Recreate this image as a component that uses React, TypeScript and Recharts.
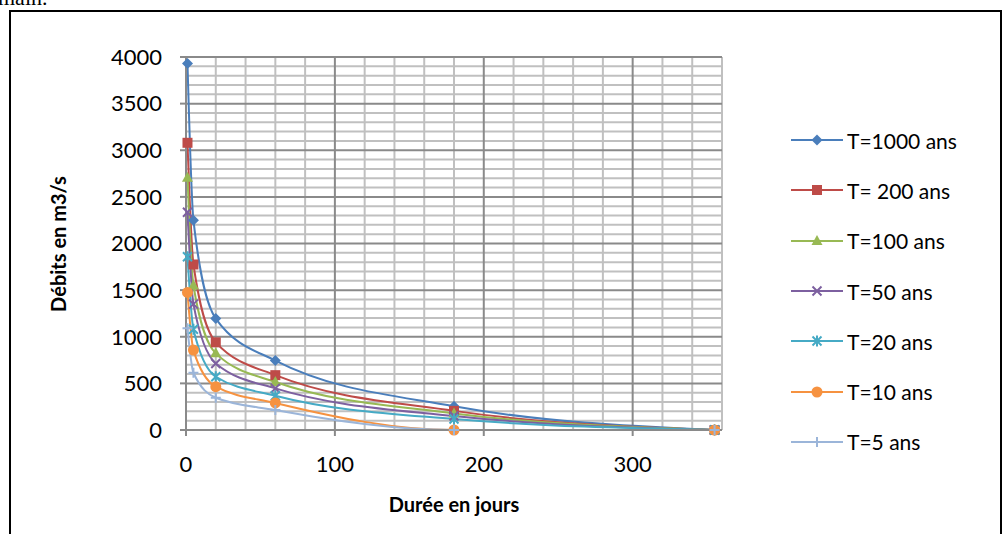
import React from "react";
import { LineChart, Line, XAxis, YAxis, ReferenceLine } from "recharts";

// durée (jours) et débits (m3/s) par période de retour
const days = [1, 5, 20, 60, 180, 355];
const t1000 = [3930, 2250, 1195, 745, 255, 0];
const t200 = [3080, 1775, 940, 588, 205, 0];
const t100 = [2705, 1550, 822, 515, 178, 0];
const t50 = [2335, 1350, 714, 446, 150, 0];
const t20 = [1858, 1080, 571, 368, 118, 0];
const t10 = [1475, 857, 464, 290, 0, 0];
const t5 = [1090, 614, 346, 214, 0, 0];

const xTicks = [0, 100, 200, 300];
const yTicks = [0, 500, 1000, 1500, 2000, 2500, 3000, 3500, 4000];

const FONT = "Lato, 'Open Sans', sans-serif";

const series = [
  { key: "t1000", name: "T=1000 ans", values: t1000, color: "#4A7EBB", shape: "diamond" },
  { key: "t200", name: "T= 200 ans", values: t200, color: "#BE4B48", shape: "square" },
  { key: "t100", name: "T=100 ans", values: t100, color: "#98B954", shape: "triangle" },
  { key: "t50", name: "T=50 ans", values: t50, color: "#7D60A0", shape: "x" },
  { key: "t20", name: "T=20 ans", values: t20, color: "#46AAC5", shape: "star" },
  { key: "t10", name: "T=10 ans", values: t10, color: "#F69240", shape: "circle" },
  { key: "t5", name: "T=5 ans", values: t5, color: "#9BB5D9", shape: "plus" },
];

const data = days.map((d, i) => {
  const row: Record<string, number> = { d };
  series.forEach((s) => (row[s.key] = s.values[i]));
  return row;
});

// minor grid every 20 days / 100 m3/s
const xMinor: number[] = [];
for (let v = 20; v <= 360; v += 20) if (v % 100 !== 0) xMinor.push(v);
const yMinor: number[] = [];
for (let v = 100; v < 4000; v += 100) if (v % 500 !== 0) yMinor.push(v);

function MarkerShape({ shape, cx, cy, color }: { shape: string; cx: number; cy: number; color: string }) {
  if (cx == null || cy == null) return null;
  switch (shape) {
    case "diamond":
      return <polygon points={`${cx},${cy - 5.5} ${cx + 5.5},${cy} ${cx},${cy + 5.5} ${cx - 5.5},${cy}`} fill={color} />;
    case "square":
      return <rect x={cx - 5} y={cy - 5} width={10} height={10} fill={color} />;
    case "triangle":
      return <polygon points={`${cx},${cy - 6} ${cx + 5.5},${cy + 4} ${cx - 5.5},${cy + 4}`} fill={color} />;
    case "x":
      return (
        <path d={`M${cx - 4.5},${cy - 4.5}L${cx + 4.5},${cy + 4.5}M${cx - 4.5},${cy + 4.5}L${cx + 4.5},${cy - 4.5}`}
          stroke={color} strokeWidth={2} />
      );
    case "star":
      return (
        <path d={`M${cx - 4.5},${cy - 4.5}L${cx + 4.5},${cy + 4.5}M${cx - 4.5},${cy + 4.5}L${cx + 4.5},${cy - 4.5}M${cx},${cy - 5.5}L${cx},${cy + 5.5}`}
          stroke={color} strokeWidth={2} />
      );
    case "circle":
      return <circle cx={cx} cy={cy} r={5.5} fill={color} />;
    default:
      return <path d={`M${cx - 5},${cy}L${cx + 5},${cy}M${cx},${cy - 5}L${cx},${cy + 5}`} stroke={color} strokeWidth={2} />;
  }
}

function LegendBox() {
  return (
    <div style={{ position: "absolute", left: 791, top: 115, fontFamily: FONT, fontSize: 21 }}>
      {series.map((s) => (
        <div key={s.key} style={{ height: 50.3, display: "flex", alignItems: "center" }}>
          <svg width={54} height={20} style={{ marginRight: 2 }}>
            <line x1={0} y1={10} x2={52} y2={10} stroke={s.color} strokeWidth={2} />
            <MarkerShape shape={s.shape} cx={26} cy={10} color={s.color} />
          </svg>
          <span>{s.name}</span>
        </div>
      ))}
    </div>
  );
}

export default function App() {
  return (
    <div style={{ position: "fixed", left: 0, top: 0, width: 1002, height: 534, overflow: "hidden", background: "#fff" }}>
      <div style={{ position: "absolute", left: -2, top: -15, fontFamily: "'Liberation Serif', serif", fontSize: 22 }}>main.</div>
      <div style={{ position: "absolute", left: 9, top: 10, width: 989, height: 560, border: "2px solid #000" }} />
      <div style={{ position: "absolute", left: 0, top: 0 }}>
        <LineChart width={1002} height={534} data={data} margin={{ top: 57, right: 280, bottom: 64, left: 116 }}>
          {xMinor.map((v) => (
            <ReferenceLine key={`xm${v}`} x={v} stroke="#c0c0c0" strokeWidth={2} />
          ))}
          {yMinor.map((v) => (
            <ReferenceLine key={`ym${v}`} y={v} stroke="#c0c0c0" strokeWidth={2} />
          ))}
          {xTicks.slice(1).map((v) => (
            <ReferenceLine key={`xM${v}`} x={v} stroke="#8a8a8a" strokeWidth={2} />
          ))}
          {yTicks.slice(1).map((v) => (
            <ReferenceLine key={`yM${v}`} y={v} stroke="#8a8a8a" strokeWidth={2} />
          ))}
          <XAxis
            dataKey="d"
            type="number"
            domain={[0, 360]}
            ticks={xTicks}
            height={40}
            tickSize={6}
            tickMargin={20}
            axisLine={{ stroke: "#8a8a8a", strokeWidth: 2 }}
            tickLine={{ stroke: "#8a8a8a", strokeWidth: 2 }}
            tick={{ fill: "#000", fontSize: 22, fontFamily: FONT }}
          />
          <YAxis
            type="number"
            domain={[0, 4000]}
            ticks={yTicks}
            width={70}
            tickSize={6}
            tickMargin={18}
            axisLine={{ stroke: "#8a8a8a", strokeWidth: 2 }}
            tickLine={{ stroke: "#8a8a8a", strokeWidth: 2 }}
            tick={{ fill: "#000", fontSize: 22, fontFamily: FONT }}
          />
          {series.map((s) => (
            <Line
              key={s.key}
              dataKey={s.key}
              name={s.name}
              type="monotone"
              stroke={s.color}
              strokeWidth={2}
              isAnimationActive={false}
              dot={(p: any) => (
                <MarkerShape key={`${s.key}-${p.index}`} shape={s.shape} cx={p.cx} cy={p.cy} color={s.color} />
              )}
              activeDot={false}
            />
          ))}
        </LineChart>
      </div>
      <div
        style={{
          position: "absolute",
          left: 58,
          top: 244,
          transform: "translate(-50%, -50%) rotate(-90deg)",
          fontFamily: FONT,
          fontWeight: 700,
          fontSize: 20,
          whiteSpace: "nowrap",
        }}
      >
        Débits en m3/s
      </div>
      <div
        style={{
          position: "absolute",
          left: 454,
          top: 504,
          transform: "translate(-50%, -50%)",
          fontFamily: FONT,
          fontWeight: 700,
          fontSize: 20,
          whiteSpace: "nowrap",
        }}
      >
        Durée en jours
      </div>
      <LegendBox />
    </div>
  );
}
